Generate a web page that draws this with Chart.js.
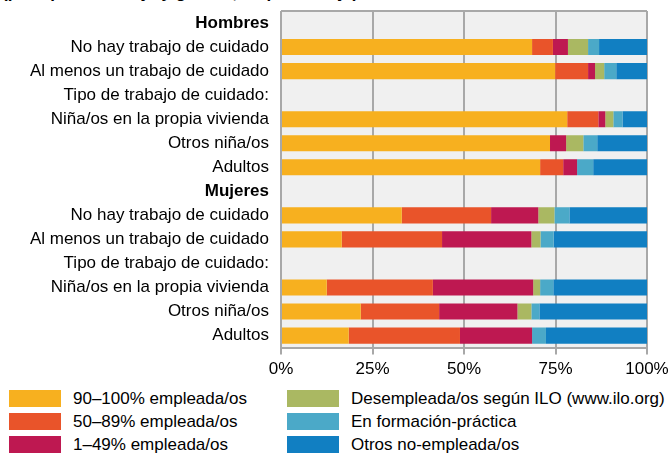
<!DOCTYPE html>
<html>
<head>
<meta charset="utf-8">
<script src="https://cdn.jsdelivr.net/npm/chart.js@4"></script>
<style>
  body { margin: 0; background: #fff; font-family: "Liberation Sans", Arial, sans-serif; }
  #wrap { position: relative; width: 672px; height: 463px; overflow: hidden; }
  #titulo { position: absolute; left: 2px; top: -17px; font-size: 17px; font-weight: bold; line-height: 20px; white-space: nowrap; color: #000; }
  #caja { position: absolute; left: 0; top: 0; width: 672px; height: 389px; }
  .ley { position: absolute; height: 17px; display: flex; align-items: center; font-size: 17px; color: #000; white-space: nowrap; }
  .ley span.cuadro { display: inline-block; width: 52px; height: 17px; margin-right: 12px; }
</style>
</head>
<body>
<div id="wrap">
  <!-- linea de titulo cortada en el original: solo se ven los trazos inferiores, el texto es una suposicion -->
  <div id="titulo">(por tipo de trabajo y género, en porcentaje)</div>
  <div id="caja"><canvas id="grafico"></canvas></div>
  <div id="leyenda"></div>
</div>
<script>
// categorias (filas vacias = titulos de grupo)
const categorias = [
  'Hombres',
  'No hay trabajo de cuidado',
  'Al menos un trabajo de cuidado',
  'Tipo de trabajo de cuidado:',
  'Niña/os en la propia vivienda',
  'Otros niña/os',
  'Adultos',
  'Mujeres',
  'No hay trabajo de cuidado',
  'Al menos un trabajo de cuidado',
  'Tipo de trabajo de cuidado:',
  'Niña/os en la propia vivienda',
  'Otros niña/os',
  'Adultos'
];
const filasNegrita = [0, 7];

const series = [
  '90–100% empleada/os',
  '50–89% empleada/os',
  '1–49% empleada/os',
  'Desempleada/os según ILO (www.ilo.org)',
  'En formación-práctica',
  'Otros no-empleada/os'
];
const colores = ['#f7b01f', '#e9542a', '#be1851', '#aab862', '#4ba9c8', '#117fc2'];

const empleo90 = [null, 68.6, 74.9, null, 78.2, 73.5, 70.8, null, 33.0, 16.6, null, 12.5, 21.8, 18.5];
const empleo50 = [null, 5.7, 9.0, null, 8.5, 0, 6.3, null, 24.4, 27.4, null, 29.0, 21.4, 30.4];
const empleo1 = [null, 4.1, 1.9, null, 1.9, 4.4, 3.8, null, 12.9, 24.4, null, 27.4, 21.4, 19.7];
const desempleo = [null, 5.5, 2.5, null, 2.2, 4.7, 0, null, 4.4, 2.5, null, 1.9, 3.8, 0];
const formacion = [null, 3.0, 3.3, null, 2.5, 3.8, 4.4, null, 4.1, 3.6, null, 3.6, 2.2, 3.8];
const otros = [null, 13.1, 8.4, null, 6.7, 13.6, 14.7, null, 21.2, 25.5, null, 25.6, 29.4, 27.6];

const ticksX = [0, 25, 50, 75, 100];

const valores = [empleo90, empleo50, empleo1, desempleo, formacion, otros];

Chart.defaults.font.family = '"Liberation Sans", Arial, sans-serif';
Chart.defaults.font.size = 17;
Chart.defaults.color = '#000';

// fondo gris del area y linea superior
const fondo = {
  id: 'fondo',
  beforeDraw(chart) {
    const { ctx, chartArea: a } = chart;
    ctx.save();
    ctx.fillStyle = '#f0f0f0';
    ctx.fillRect(a.left, a.top, a.right - a.left, a.bottom - a.top);
    ctx.restore();
  },
  afterDraw(chart) {
    const { ctx, chartArea: a } = chart;
    ctx.save();
    ctx.strokeStyle = '#a8a8a8';
    ctx.lineWidth = 2;
    ctx.beginPath();
    ctx.moveTo(a.left, a.top);
    ctx.lineTo(a.right, a.top);
    ctx.stroke();
    ctx.restore();
  }
};

const grafico = new Chart(document.getElementById('grafico'), {
  type: 'bar',
  data: {
    labels: categorias,
    datasets: series.map((s, i) => ({
      label: s,
      data: valores[i],
      backgroundColor: colores[i],
      borderWidth: 0,
      barPercentage: 0.67,
      categoryPercentage: 1
    }))
  },
  options: {
    indexAxis: 'y',
    responsive: true,
    maintainAspectRatio: false,
    animation: false,
    layout: { padding: { top: 11, right: 25, bottom: 4, left: 0 } },
    scales: {
      x: {
        stacked: true,
        min: 0,
        max: 100,
        afterBuildTicks: (scale) => { scale.ticks = ticksX.map(v => ({ value: v })); },
        afterFit: (scale) => { scale.paddingLeft = 0; scale.paddingRight = 0; },
        ticks: { callback: v => v + '%', padding: 5, maxRotation: 0 },
        grid: { color: '#a8a8a8', lineWidth: 2, tickLength: 7 },
        border: { display: true, color: '#a8a8a8', width: 2 }
      },
      y: {
        stacked: true,
        afterFit: (scale) => { scale.width = 281; scale.paddingTop = 0; scale.paddingBottom = 0; },
        grid: { display: false, drawTicks: false },
        border: { display: false },
        ticks: {
          autoSkip: false,
          padding: 12,
          font: (c) => ({ size: 17, weight: filasNegrita.includes(c.index) ? 'bold' : 'normal' })
        }
      }
    },
    plugins: {
      legend: { display: false },
      tooltip: { enabled: false }
    }
  },
  plugins: [fondo]
});

// leyenda en dos columnas
const leyenda = document.getElementById('leyenda');
const colX = [9, 287];
const filaY = [390, 413, 436];
series.forEach((s, i) => {
  const d = document.createElement('div');
  d.className = 'ley';
  d.style.left = colX[Math.floor(i / 3)] + 'px';
  d.style.top = filaY[i % 3] + 'px';
  const c = document.createElement('span');
  c.className = 'cuadro';
  c.style.background = colores[i];
  d.appendChild(c);
  d.appendChild(document.createTextNode(s));
  leyenda.appendChild(d);
});
</script>
</body>
</html>
